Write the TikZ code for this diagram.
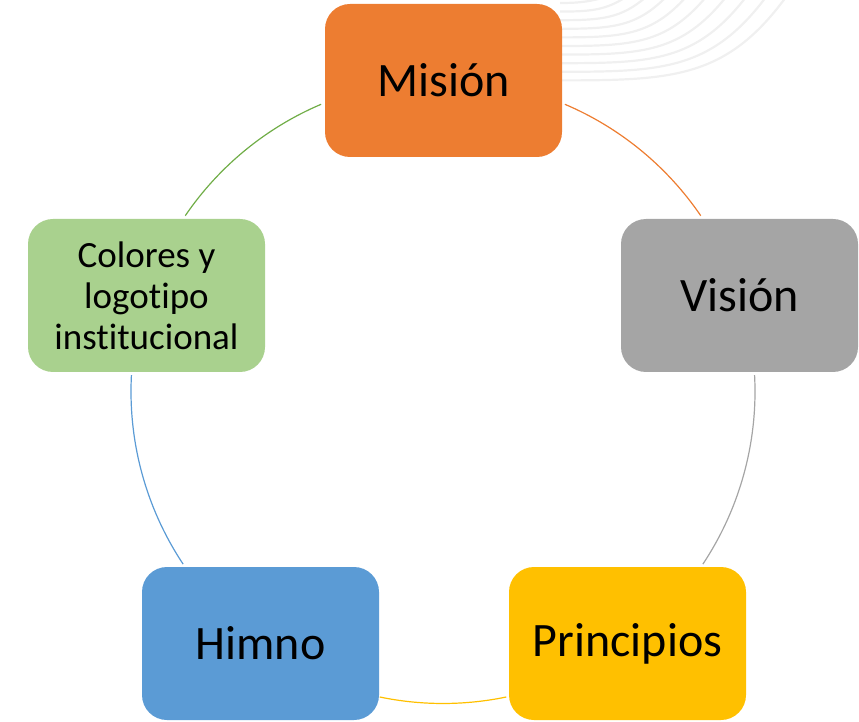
\documentclass[tikz,border=0pt]{standalone}
\usepackage{fontspec}
\setmainfont{Carlito}[Ligatures=NoCommon]
\definecolor{cOrange}{HTML}{ED7D31}
\definecolor{cGray}{HTML}{A5A5A5}
\definecolor{cYellow}{HTML}{FFC000}
\definecolor{cBlue}{HTML}{5B9BD5}
\definecolor{cGreenFill}{HTML}{A9D18E}
\definecolor{cGreenLine}{HTML}{70AD47}
\definecolor{cWave}{HTML}{F0F0F0}
\tikzset{
  boxnode/.style={rounded corners=25pt, minimum width=237pt, minimum height=153pt,
    inner sep=0pt, align=center, text=black, font=\fontsize{48}{56}\selectfont},
  smalltext/.style={font=\fontsize{37}{41}\selectfont},
  ring/.style={line width=1.2pt},
  wave/.style={draw=cWave, line width=2.2pt}
}
\begin{document}
\begin{tikzpicture}[x=1pt,y=1pt]
\useasboundingbox (0,0) rectangle (859,721);
\begin{scope}
\clip (0,0) rectangle (859,721);
\foreach \i in {0,...,9}{
  \pgfmathsetmacro{\ys}{718-8.6*\i}
  \pgfmathsetmacro{\xe}{600+20*\i}
  \pgfmathsetmacro{\ca}{565+0.5*(\xe-565)}
  \pgfmathsetmacro{\cb}{\xe-0.25*(\xe-565)}
  \draw[wave] (560,\ys) .. controls (\ca,\ys) and (\cb,\ys+2) .. (\xe+6,724);
}
\end{scope}
\coordinate (c) at (443,329.5);
\node[boxnode, fill=cOrange] (mision) at (443.5,640.5) {Misión};
\node[boxnode, fill=cGray] (vision) at (739.5,425.5) {Visión};
\node[boxnode, fill=cGreenFill, smalltext] (colores) at (146.5,425.5) {Colores y\\logotipo\\institucional};
\node[boxnode, fill=cBlue] (himno) at (260.5,77.5) {Himno};
\node[boxnode, fill=cYellow] (principios) at (627.5,77.5) {Principios};
\draw[ring, cOrange] (c) ++(67:312) arc[start angle=67, end angle=34.3, radius=312];
\draw[ring, cGray] (c) ++(3:312) arc[start angle=3, end angle=-33.6, radius=312];
\draw[ring, cYellow] (c) ++(-78.3:312) arc[start angle=-78.3, end angle=-101.7, radius=312];
\draw[ring, cBlue] (c) ++(213.6:312) arc[start angle=213.6, end angle=177, radius=312];
\draw[ring, cGreenLine] (c) ++(145.7:312) arc[start angle=145.7, end angle=113, radius=312];
\end{tikzpicture}
\end{document}
